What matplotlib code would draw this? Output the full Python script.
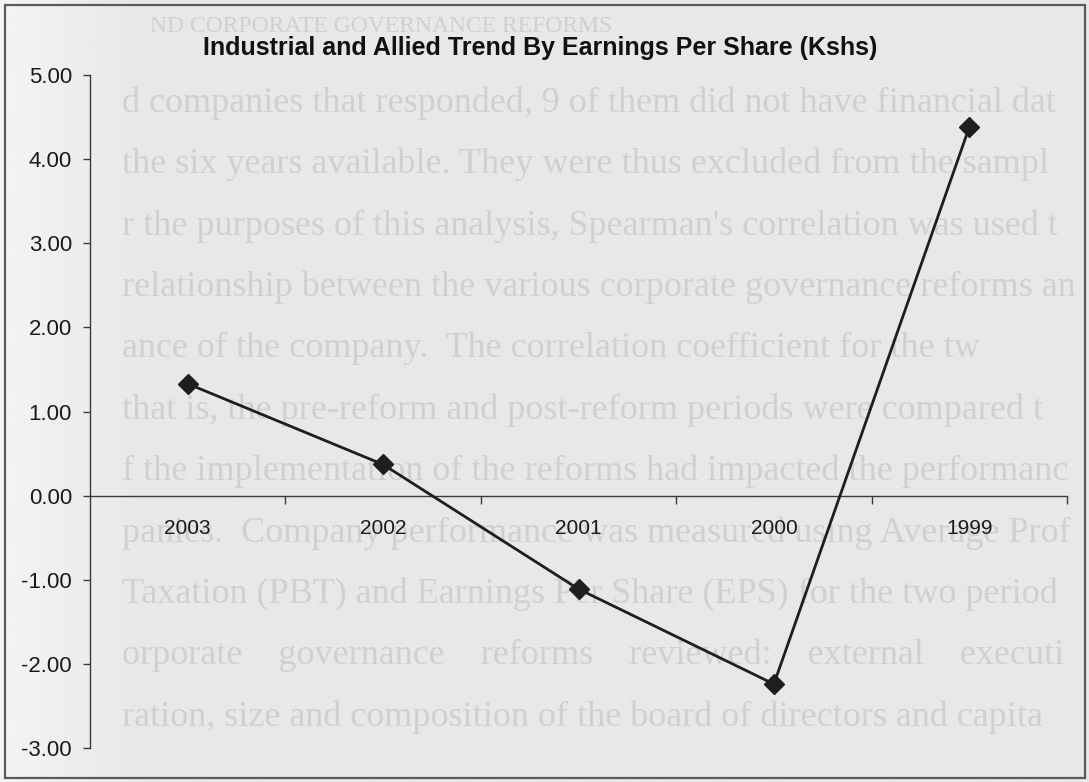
import numpy as np
import matplotlib
matplotlib.use("Agg")
import matplotlib.pyplot as plt
from matplotlib.patches import Rectangle

years = ["2003", "2002", "2001", "2000", "1999"]
eps = [1.33, 0.37, -1.11, -2.24, 4.38]
y_ticks = [-3, -2, -1, 0, 1, 2, 3, 4, 5]

# faint print showing through from the other side of the page
page_lines = [
    "ND CORPORATE GOVERNANCE REFORMS",
    "d companies that responded, 9 of them did not have financial dat",
    "the six years available. They were thus excluded from the sampl",
    "r the purposes of this analysis, Spearman's correlation was used t",
    "relationship between the various corporate governance reforms an",
    "ance of the company.  The correlation coefficient for the tw",
    "that is, the pre-reform and post-reform periods were compared t",
    "f the implementation of the reforms had impacted the performanc",
    "panies.  Company performance was measured using Average Prof",
    "Taxation (PBT) and Earnings Per Share (EPS) for the two period",
    "orporate    governance    reforms    reviewed:    external    executi",
    "ration, size and composition of the board of directors and capita",
]

W, H = 1089, 782
fig = plt.figure(figsize=(W / 100, H / 100), dpi=100)
fig.patch.set_facecolor("#e8e8e8")

# paper background, a little lighter towards the left edge
bg = fig.add_axes([0, 0, 1, 1], zorder=0)
grad = np.linspace(0, 1, 400)
shade = 0.955 - 0.045 * np.clip(grad * 8, 0, 1)
bg.imshow(np.tile(shade, (10, 1)), cmap="gray", vmin=0, vmax=1,
          aspect="auto", extent=[0, 1, 0, 1], interpolation="bilinear")
bg.set_xlim(0, 1)
bg.set_ylim(0, 1)
bg.axis("off")

for i, line in enumerate(page_lines):
    ypx = 27 if i == 0 else 103 + (i - 1) * 61.4
    xpx = 150 if i == 0 else 122
    bg.text(xpx / W, 1 - ypx / H, line, family="Liberation Serif",
            fontsize=17 if i == 0 else 26, color="#d0d0d0",
            va="center", ha="left", zorder=1, clip_on=True)

bg.add_patch(Rectangle((5 / W, 1 - 778 / H), 1080 / W, 773 / H,
                       fill=False, edgecolor="#5a5a5a", lw=1.6, zorder=2))

ax = fig.add_axes([90 / W, 1 - 748 / H, (1067 - 90) / W, (748 - 75) / H],
                  zorder=2)
ax.patch.set_alpha(0)

x = np.arange(len(years))
ax.plot(x, eps, color="#1e1e1e", lw=2.0, marker="D", ms=10.5,
        markerfacecolor="#1e1e1e", markeredgecolor="#1e1e1e",
        clip_on=False, zorder=3)

ax.set_xlim(-0.5, len(years) - 0.5)
ax.set_ylim(-3, 5)
ax.set_yticks(y_ticks)
ax.set_yticklabels([f"{v:.2f}" for v in y_ticks])

ax.spines["top"].set_visible(False)
ax.spines["right"].set_visible(False)
ax.spines["bottom"].set_position(("data", 0))
for s in ("left", "bottom"):
    ax.spines[s].set_color("#3a3a3a")
    ax.spines[s].set_linewidth(1.0)

# category labels centred, tick marks between categories
ax.set_xticks(x)
ax.set_xticklabels(years)
ax.set_xticks(np.arange(len(years)) + 0.5, minor=True)
ax.tick_params(axis="x", which="major", length=0, pad=17,
               labelsize=15, labelcolor="#1a1a1a")
ax.tick_params(axis="x", which="minor", length=6, width=1.0,
               color="#3a3a3a", direction="out")
ax.tick_params(axis="y", length=5, width=1.0, color="#3a3a3a",
               pad=8, labelsize=16, labelcolor="#1a1a1a")
for lab in ax.get_xticklabels() + ax.get_yticklabels():
    lab.set_family("Liberation Sans")

fig.text(540 / W, 1 - 48 / H,
         "Industrial and Allied Trend By Earnings Per Share (Kshs)",
         family=["Liberation Sans Narrow", "Liberation Sans"],
         fontsize=18, fontweight="bold", color="#111111",
         ha="center", va="center", zorder=5)

fig.savefig("out.png", dpi=100, facecolor=fig.get_facecolor())
